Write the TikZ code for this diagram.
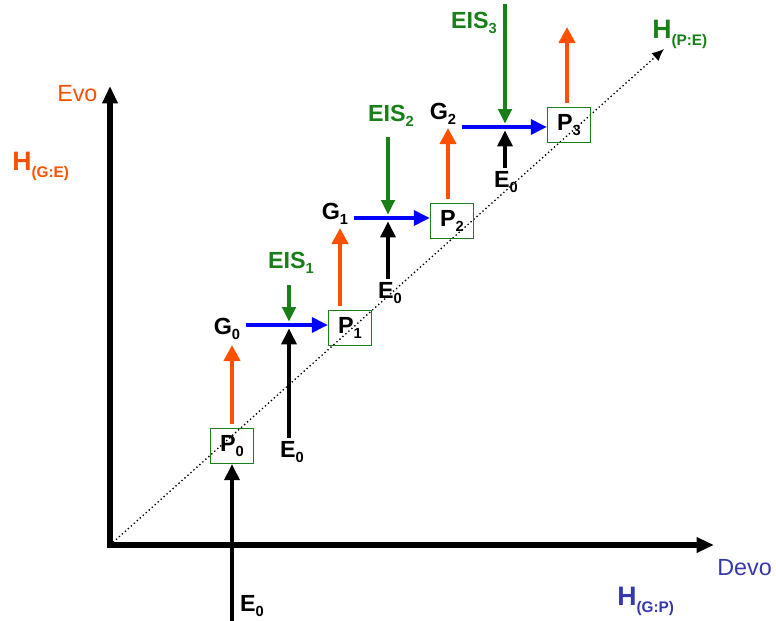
\documentclass[tikz,border=0pt]{standalone}
\usepackage{fontspec}
\setmainfont{Liberation Sans}
\usetikzlibrary{arrows.meta}
\definecolor{corange}{RGB}{255,80,0}
\definecolor{cgreen}{RGB}{25,128,25}
\definecolor{cblue}{RGB}{0,0,255}
\definecolor{cviolet}{RGB}{55,55,175}
\newcommand{\dn}[1]{\raisebox{-0.45ex}{\fontsize{11}{13}\selectfont #1}}
\newcommand{\hsub}[1]{\raisebox{-0.55ex}{\fontsize{11.5}{13}\selectfont #1}}

\begin{document}
\begin{tikzpicture}[x=0.75pt,y=-0.75pt,
        lab/.style={font=\bfseries\fontsize{17.5}{20}\selectfont,inner sep=2pt},
        pbox/.style={draw=cgreen,line width=1.1pt,minimum width=32pt,minimum height=26pt,inner sep=0pt,font=\bfseries\fontsize{17.5}{20}\selectfont},
        axis/.style={line width=3.8pt,line cap=rect,-{Triangle[length=13pt,width=11pt]}},
        garr/.style={corange,line width=3.6pt,shorten <=3pt,-{Triangle[length=12pt,width=12pt]}},
        parr/.style={cblue,line width=3.6pt,shorten <=2pt,-{Triangle[length=12pt,width=11pt]}},
        earr/.style={black,line width=3.6pt,shorten >=2.5pt,-{Triangle[length=12pt,width=11pt]}},
        sarr/.style={cgreen,line width=3pt,shorten >=2.5pt,-{Triangle[length=11pt,width=10pt]}}]
      \useasboundingbox (0,0) rectangle (776,621);
      % axes
      \coordinate (o) at (110,545);
      \coordinate (ya) at (110,86);
      \coordinate (xa) at (714,545);
      \coordinate (dtip) at (664,49);
      \draw[axis] (o) -- (ya);
      \draw[axis] (o) -- (xa);
      \draw[dotted,line width=1pt,-{Latex[length=9pt,width=8pt]}] (o) -- (dtip);
      \node[corange,font=\fontsize{17.5}{20}\selectfont,anchor=base west,inner sep=0pt] (evo) at (57,101) {Evo};
      \node[corange,font=\bfseries\fontsize{20}{24}\selectfont,anchor=base west,inner sep=0pt] (hge) at (12,170) {H\hsub{(G:E)}};
      \node[cviolet,font=\fontsize{17.5}{20}\selectfont,anchor=base west,inner sep=0pt] (devo) at (717,575) {Devo};
      \node[cviolet,font=\bfseries\fontsize{20}{24}\selectfont,anchor=base west,inner sep=0pt] (hgp) at (617,605) {H\hsub{(G:P)}};
      \node[cgreen,font=\bfseries\fontsize{20}{24}\selectfont,anchor=base west,inner sep=0pt] (hpe) at (652,38) {H\hsub{(P:E)}};
      % phenotypes and genotypes
      \foreach \i/\x/\y in {0/232/446, 1/350/328, 2/452/221, 3/569/125}
        \node[pbox] (p\i) at (\x,\y) {P\dn{\i}};
      \foreach \i/\x/\y in {0/227/329, 1/335/214, 2/443/114}
        \node[lab] (g\i) at (\x,\y) {G\dn{\i}};
      \foreach \i/\x/\y in {1/291/263, 2/391/116, 3/474/23}
        \node[lab,cgreen] (eis\i) at (\x,\y) {EIS\dn{\i}};
      \foreach \i/\x/\y in {0/252/606, 1/292/452, 2/390/293, 3/506/182}
        \node[lab] (e\i) at (\x,\y) {E\dn{0}};
      % junctions, arrow ends
      \foreach \i/\x/\y in {1/289/325, 2/388/218, 3/505/127}
        \coordinate (m\i) at (\x,\y);
      \foreach \i/\x/\y in {1/289/285, 2/388/137, 3/505/4}
        \coordinate (s\i) at (\x,\y);
      \foreach \i/\x/\y in {0/232/345, 1/340/228, 2/448/128, 3/567/27}
        \coordinate (t\i) at (\x,\y);
      \coordinate (b0) at (232,621);
      % arrows
      \draw[earr,shorten >=0pt] (b0) -- (p0.south);
      \foreach \i in {0,...,3}
        \draw[garr] (p\i.north -| t\i) -- (t\i);
      \foreach \i [evaluate=\i as \j using int(\i-1)] in {1,2,3} {
        \draw[parr] (g\j.east |- m\i) -- (m\i -| p\i.west);
        \draw[sarr] (s\i) -- (m\i);
        \draw[earr] (e\i.north -| m\i) -- (m\i);
      }
    \end{tikzpicture}
\end{document}
